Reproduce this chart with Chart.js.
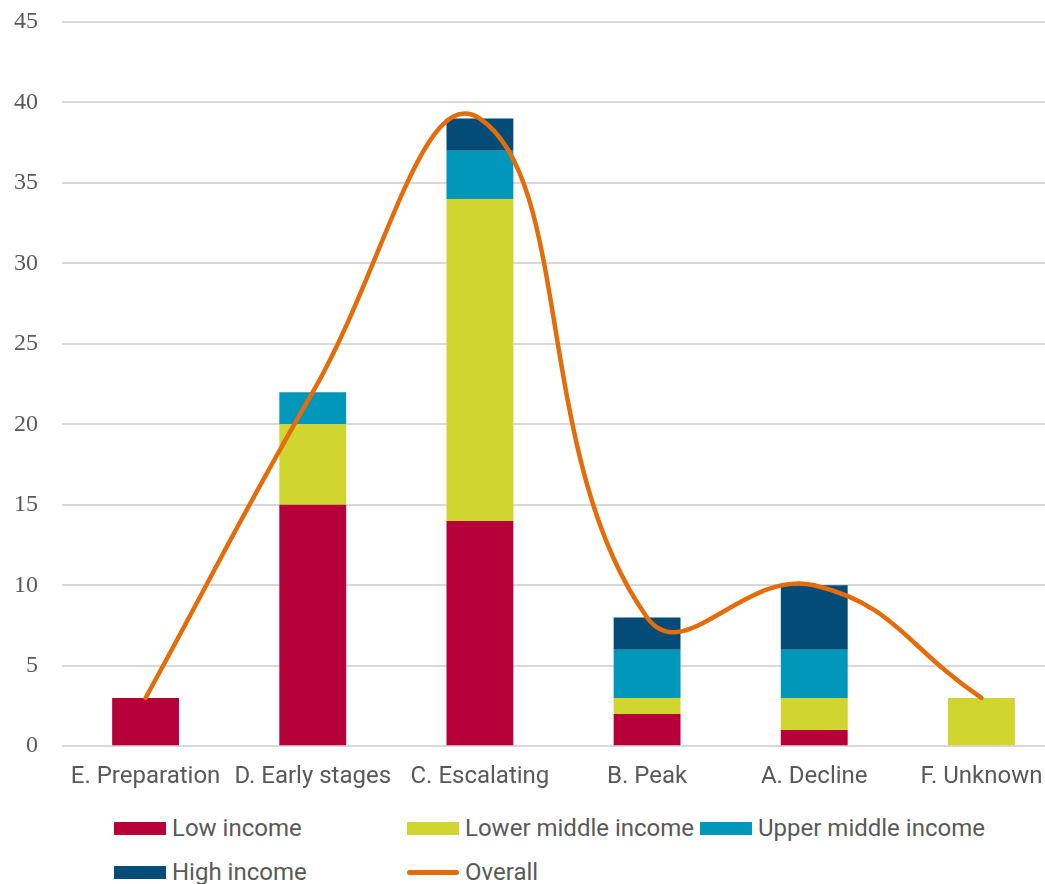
<!DOCTYPE html>
<html>
<head>
<meta charset="utf-8">
<script src="https://cdn.jsdelivr.net/npm/chart.js@4/dist/chart.umd.min.js"></script>
<style>
  html, body { margin: 0; padding: 0; background: #fff; overflow: hidden; }
  #wrap { position: relative; width: 1045px; height: 884px; overflow: hidden; }
  #myChart { position: absolute; left: 0; top: 0; }
  .legend { position: absolute; left: 114px; top: 814px; display: grid;
    grid-template-columns: 293px 293px 293px; row-gap: 16px;
    font-family: Roboto, sans-serif; font-size: 24px; color: #595959; }
  .legend__item { display: flex; align-items: center; height: 28px; white-space: nowrap; }
  .legend__box { width: 52px; height: 13px; margin-right: 6px; }
  .legend__line { width: 52px; height: 5px; border-radius: 3px; margin-right: 6px; }
</style>
</head>
<body>
<div id="wrap">
  <canvas id="myChart" width="1066" height="811"></canvas>
  <div class="legend" id="legend"></div>
</div>
<script>
const categories = ['E. Preparation', 'D. Early stages', 'C. Escalating', 'B. Peak', 'A. Decline', 'F. Unknown'];
const lowIncome = [3, 15, 14, 2, 1, 0];
const lowerMiddle = [0, 5, 20, 1, 2, 3];
const upperMiddle = [0, 2, 3, 3, 3, 0];
const highIncome = [0, 0, 2, 2, 4, 0];
const overall = [3, 22, 39, 8, 10, 3];
const yTicks = [0, 5, 10, 15, 20, 25, 30, 35, 40, 45];

const barSeries = [
  {label: 'Low income', data: lowIncome, color: '#b7003a'},
  {label: 'Lower middle income', data: lowerMiddle, color: '#d0d52f'},
  {label: 'Upper middle income', data: upperMiddle, color: '#0097ba'},
  {label: 'High income', data: highIncome, color: '#034c77'},
];
const lineColor = '#e46c0a';

const datasets = barSeries.map(s => ({
  type: 'bar',
  label: s.label,
  data: s.data,
  backgroundColor: s.color,
  borderWidth: 0,
  stack: 'income',
  order: 1,
  barPercentage: 0.4,
  categoryPercentage: 1,
}));
datasets.push({
  type: 'line',
  label: 'Overall',
  data: overall,
  borderColor: lineColor,
  borderWidth: 4.5,
  borderCapStyle: 'round',
  pointRadius: 0,
  tension: 0.45,
  stack: 'overall',
  order: 0,
  fill: false,
});

const ctx = document.getElementById('myChart').getContext('2d');
const myChart = new Chart(ctx, {
  data: { labels: categories, datasets },
  options: {
    responsive: false,
    animation: false,
    layout: { padding: { left: 14, right: 1, top: 22, bottom: 12 } },
    plugins: { legend: { display: false }, tooltip: { enabled: false } },
    scales: {
      x: {
        stacked: true,
        grid: { display: false },
        border: { display: false },
        ticks: { color: '#595959', font: { family: 'Roboto', size: 24 }, padding: 8, maxRotation: 0, autoSkip: false },
        // labels may spill past the category, as in Excel
        afterFit: s => { s.paddingLeft = 0; s.paddingRight = 0; },
      },
      y: {
        stacked: true,
        min: 0,
        max: 45,
        afterBuildTicks: axis => { axis.ticks = yTicks.map(v => ({value: v})); },
        afterFit: s => { s.width = 48; s.paddingTop = 0; s.paddingBottom = 0; },
        grid: { color: '#d9d9d9', lineWidth: 2, drawTicks: false },
        border: { display: false },
        ticks: { color: '#595959', font: { family: 'Liberation Serif', size: 24 }, padding: 24 },
      }
    }
  }
});

// legend in Excel's grid layout
const legend = document.getElementById('legend');
myChart.data.datasets.forEach(ds => {
  const marker = ds.type === 'line'
    ? `<span class="legend__line" style="background:${ds.borderColor}"></span>`
    : `<span class="legend__box" style="background:${ds.backgroundColor}"></span>`;
  legend.insertAdjacentHTML('beforeend', `<div class="legend__item">${marker}${ds.label}</div>`);
});
</script>
</body>
</html>
